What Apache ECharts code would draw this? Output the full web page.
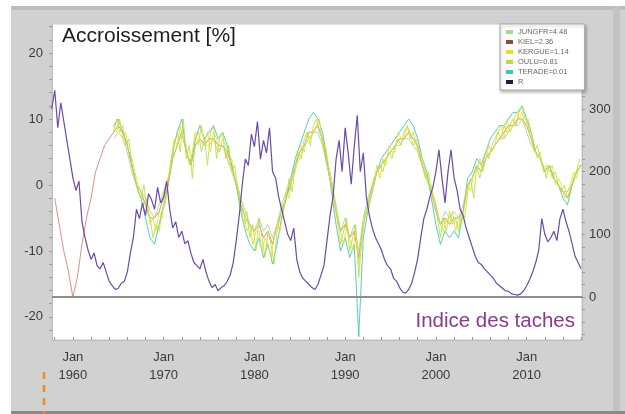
<!DOCTYPE html>
<html><head><meta charset="utf-8">
<script src="https://cdn.jsdelivr.net/npm/echarts@6/dist/echarts.min.js"></script>
<style>html,body{margin:0;padding:0;background:#fff}#c{width:625px;height:414px}</style>
</head><body><div id="c"></div><script>
// ---- data ----
const xLabelYears = [1960, 1970, 1980, 1990, 2000, 2010];
const leftTicks = [-20, -10, 0, 10, 20];
const rightTicks = [0, 100, 200, 300];
const legendNames = ['JUNGFR=4.48', 'KIEL=2.36', 'KERGUE=1.14', 'OULU=0.81', 'TERADE=0.01', 'R'];

// Sunspot index R, every 4 months from Sep 1957
const sunStart = 1957.67, sunStep = 1 / 3;
const sunspots = [300,330,270,310,280,250,220,190,170,185,120,95,75,60,70,50,45,55,40,25,18,12,14,22,25,40,70,95,140,125,150,130,165,155,140,175,150,160,185,140,110,120,95,105,85,90,70,55,50,45,60,40,25,15,20,10,15,18,25,35,55,90,130,180,220,210,260,240,280,220,250,230,270,200,190,160,140,120,100,90,110,60,40,30,25,20,15,12,20,35,50,90,130,160,220,250,200,270,230,180,240,290,200,230,160,130,
110,95,85,75,60,50,45,30,25,15,8,6,12,22,40,62,95,125,140,160,175,200,235,190,150,200,235,190,170,140,130,110,95,80,65,55,52,45,40,35,30,22,18,14,10,9,5,4,3,5,10,18,28,40,55,75,125,100,88,95,105,90,125,140,120,105,85,65,55,45];

// Neutron monitor increase [%]
const halfYear = 0.5, thirdYear = 1 / 3;
const kielStart = 1958.0;   // every 6 months
const kiel = [-2,-6,-10,-13,-17,-14,-9,-5,-2,2,4,6,7,8,9,8,6,3,0,-1,-3,-5,-5,-4,-2,0,4,6,8,5,3,6,7,6,7,7,6,6,5,3,0,-3,-5,-6,-7,-6,-8,-7,-9,-6,-4,-2,0,3,5,6,8,8,9,7,3,0,-4,-7,-6,-8,-7,-11,-6,-3,0,2,3,4,5,6,7,7,8,7,6,3,1,-1,-4,-6,-5,-6,-5,-5,-4,0,1,3,2,4,5,6,7,8,9,9,10,10,9,7,5,4,2,3,1,0,-1,-2,0,2,3];
const otherStart = 1964.5;
const jungfr = [7,8,7,5,2,0,-1,-2,-4,-5,-3,-1,1,4,6,8,5,3,6,7,6,6,7,5,6,4,2,0,-2,-4,-6,-7,-5,-7,-6,-8,-6,-3,-1,1,3,4,6,7,8,8,6,3,0,-3,-7,-5,-8,-6,-10,-5,-2,0,2,3,4,5,6,6,7,7,6,5,3,1,-1,-3,-6,-4,-5,-4,-5,-3,0,1,3,2,4,5,6,7,7,8,9,9,10,8,6,5,4,2,3,1,0,-1,-1,0,2,3];
const terade = [9,10,8,6,3,0,-2,-5,-8,-9,-6,-3,0,5,8,10,5,3,7,9,7,8,9,7,8,6,3,0,-4,-7,-9,-10,-8,-11,-9,-12,-9,-5,-2,1,4,6,8,10,11,10,8,4,-1,-6,-10,-8,-11,-9,-23,-8,-4,-1,2,4,5,6,7,8,9,10,9,7,4,2,-2,-6,-9,-7,-8,-7,-8,-4,1,2,4,3,5,7,8,9,9,10,11,11,12,10,8,5,4,2,3,1,0,-2,-3,0,2,3];
// every 4 months
const oulu = [8,10,8,9,6,7, 3,1,-1,-2,0,-4, -5,-8,-6,-7,-4,-3, 0,3,6,8,5,10, 4,6,1,7,8,5, 7,3,8,9,4,7, 8,4,6,2,3,-1, -3,-6,-4,-8,-6,-10, -5,-8,-11,-7,-9,-12, -7,-5,-3,-2,1,-1, 3,5,4,7,8,6, 9,10,8,7,5,2, 0,-3,-5,-9,-7,-5, -10,-8,-6,-14,-8,-5, -3,-1,1,2,3,2, 4,5,4,6,7,6, 8,9,7,8,6,5, 3,1,2,-1,-2,-5, -8,-5,-7,-4,-6,-5, -7,-4,-5,-1,1,-2, 3,1,3,5,4,6, 7,8,7,9,8,9, 10,9,11,12,10,9, 7,5,6,4,3,1, 3,1,2,0,-1,0, -2,-1,1,2,4];
const kergue = [9,8,10,7,8,5, 4,2,0,-1,-3,-2, -6,-5,-7,-4,-5,-1, 1,4,7,6,9,7, 6,3,5,8,6,9, 6,8,5,8,7,5, 7,6,3,4,1,0, -2,-4,-7,-6,-9,-7, -7,-10,-8,-9,-11,-8, -6,-7,-4,-1,-2,1, 2,4,6,5,8,7, 8,9,10,6,6,3, 1,-2,-6,-7,-9,-6, -8,-10,-7,-12,-9,-4, -4,-2,0,3,1,4, 3,6,5,5,8,7, 7,9,8,6,7,4, 4,2,0,0,-3,-4, -6,-7,-5,-6,-4,-7, -5,-6,-3,0,-1,2, 2,4,2,4,6,5, 6,8,9,7,10,8, 9,11,10,11,9,10, 8,6,4,5,2,3, 2,3,0,1,0,-2, -1,0,2,1,3];

// ---- build ----
const pairs = (arr, start, step) => arr.map((v, i) => [start + i * step, v]);
const range = (a, b, s) => { const r = []; for (let v = a; v <= b + 1e-9; v += s) r.push(v); return r; };
const FONT = '"Liberation Sans", Arial, sans-serif';

const stationSeries = (name, data, start, step, color) => ({
  name, type: 'line', yAxisIndex: 0, showSymbol: false, symbol: 'none',
  data: pairs(data, start, step),
  lineStyle: { width: 1, color, opacity: 0.85 }, itemStyle: { color }
});

const chart = echarts.init(document.getElementById('c'), null, { renderer: 'canvas' });
chart.setOption({
  animation: false,
  backgroundColor: '#fff',
  textStyle: { fontFamily: FONT },
  grid: { left: 52, right: 43, top: 24, bottom: 74, show: true, backgroundColor: '#fff', borderColor: '#c8c8c8', borderWidth: 1 },
  graphic: [
    { type: 'rect', z: -10, shape: { x: 11, y: 6, width: 614, height: 408 }, style: { fill: '#d1d1d1' } },
    { type: 'rect', z: -9, shape: { x: 11, y: 6, width: 614, height: 4 }, style: { fill: '#bdbdbd' } },
    { type: 'rect', z: -9, shape: { x: 613, y: 6, width: 7, height: 408 }, style: { fill: '#c2c2c2' } },
    { type: 'rect', z: -9, shape: { x: 11, y: 411, width: 614, height: 3 }, style: { fill: '#8a8a8a' } },
    { type: 'line', z: 20, shape: { x1: 44, y1: 372, x2: 44, y2: 414 }, style: { stroke: '#f08a24', lineWidth: 2.5, lineDash: [7, 6] } },
    { type: 'text', z: 20, left: 62, top: 26, style: { text: 'Accroissement [%]', font: '21px ' + FONT, fill: '#1e1e1e' } },
    { type: 'text', z: 20, right: 50, top: 311, style: { text: 'Indice des taches', font: '20.5px ' + FONT, fill: '#8a3a8c' } }
  ],
  legend: {
    orient: 'vertical', left: 500, top: 24,
    data: legendNames.map((n, i) => i === 5 ? { name: n, itemStyle: { color: '#2a1830' } } :
      (i === 1 ? { name: n, itemStyle: { color: '#8a4a40' } } : n)),
    icon: 'rect', itemWidth: 7, itemHeight: 4, itemGap: 2,
    textStyle: { fontSize: 7.5, color: '#666', lineHeight: 8, fontFamily: FONT },
    padding: [4, 16, 4, 6],
    backgroundColor: '#fff', borderColor: '#aaa', borderWidth: 1,
    shadowColor: 'rgba(0,0,0,0.25)', shadowBlur: 3, shadowOffsetY: 2, shadowOffsetX: 1
  },
  xAxis: {
    type: 'value', min: 1957.7, max: 2016.1,
    axisLine: { show: true, onZero: false, lineStyle: { color: '#bbb' } },
    axisTick: { show: true, inside: true, length: 3, customValues: range(1958, 2016, 2), lineStyle: { color: '#999' } },
    axisLabel: { customValues: xLabelYears, formatter: v => 'Jan\n' + v, color: '#3a3a3a', fontSize: 13, lineHeight: 18, margin: 8, fontFamily: FONT },
    splitLine: { show: false }
  },
  yAxis: [
    {
      type: 'value', min: -23.5, max: 24.4, position: 'left',
      axisLine: { show: true, onZero: false, lineStyle: { color: '#bbb' } },
      axisTick: { show: true, length: 3, customValues: range(-22, 24, 2), lineStyle: { color: '#999' } },
      axisLabel: { customValues: leftTicks, color: '#3a3a3a', fontSize: 13, margin: 9, fontFamily: FONT },
      splitLine: { show: false }
    },
    {
      type: 'value', min: -68.6, max: 435.6, position: 'right',
      axisLine: { show: true, onZero: false, lineStyle: { color: '#bbb' } },
      axisTick: { show: true, length: 3, customValues: range(-60, 420, 20), lineStyle: { color: '#999' } },
      axisLabel: { customValues: rightTicks, color: '#3a3a3a', fontSize: 13, margin: 7, fontFamily: FONT },
      splitLine: { show: false }
    }
  ],
  series: [
    stationSeries(legendNames[4], terade, otherStart, halfYear, '#3ec4a8'),
    stationSeries(legendNames[1], kiel, kielStart, halfYear, '#d97c70'),
    stationSeries(legendNames[0], jungfr, otherStart, halfYear, '#a6d894'),
    stationSeries(legendNames[3], oulu, otherStart, thirdYear, '#b4e040'),
    stationSeries(legendNames[2], kergue, otherStart, thirdYear, '#e6dc2a'),
    {
      name: 'R', type: 'line', yAxisIndex: 1, showSymbol: false, symbol: 'none',
      data: pairs(sunspots, sunStart, sunStep),
      lineStyle: { width: 1.2, color: '#6a4aaa' }, itemStyle: { color: '#6a4aaa' },
      markLine: { silent: true, symbol: 'none', label: { show: false },
        lineStyle: { color: '#8e8e8e', width: 2, type: 'solid' }, data: [{ yAxis: 0 }] }
    }
  ]
});
</script></body></html>
